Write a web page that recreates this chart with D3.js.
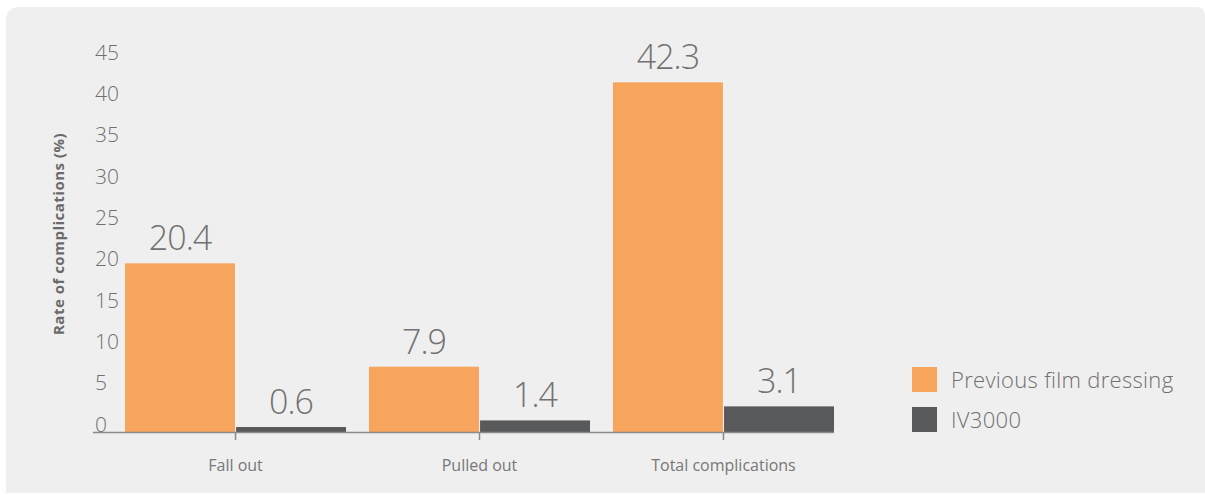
<!DOCTYPE html>
<html><head><meta charset="utf-8">
<script src="https://cdn.jsdelivr.net/npm/d3@7"></script>
<style>html,body{margin:0;padding:0;background:#fff;}svg{display:block;}</style>
</head><body>
<script>
const categories = ["Fall out", "Pulled out", "Total complications"];
const seriesNames = ["Previous film dressing", "IV3000"];
const previousFilm = [20.4, 7.9, 42.3];
const iv3000 = [0.6, 1.4, 3.1];
const valueLabels = [["20.4", "7.9", "42.3"], ["0.6", "1.4", "3.1"]];
const yTicks = [0, 5, 10, 15, 20, 25, 30, 35, 40, 45];
const colors = ["#f7a45c", "#58595b"];

const W = 1205, H = 495;
const svg = d3.select("body").append("svg").attr("width", W).attr("height", H);
const font = "'Open Sans', sans-serif";

// panel
svg.append("path")
  .attr("d", "M6,21 Q6,7 20,7 L1196,7 Q1205,7 1205,16 L1205,495 L6,495 Z")
  .attr("fill", "#efefef");
svg.append("rect").attr("x", 0).attr("y", 493).attr("width", W).attr("height", 2).attr("fill", "#fff");

const series = [previousFilm, iv3000];
const x0 = d3.scaleBand().domain(categories).range([125, 834]).paddingInner(0.094).paddingOuter(0);
const x1 = d3.scaleBand().domain([0, 1]).range([0, x0.bandwidth()]).paddingInner(0.01);
const y = d3.scaleLinear().domain([0, 45]).range([432, 60]);

// y tick labels
svg.append("g").selectAll("text").data(yTicks).join("text")
  .attr("x", 95).attr("y", d => y(d) - 8).attr("dy", "0.36em")
  .attr("font-family", font).attr("font-weight", 300).attr("font-size", 21)
  .attr("fill", "#707070").text(d => d);

// y title
svg.append("text")
  .attr("transform", `translate(64,${(130 + 338) / 2}) rotate(-90)`)
  .attr("text-anchor", "middle")
  .attr("font-family", font).attr("font-weight", 700).attr("font-size", 15)
  .attr("letter-spacing", "0.5px")
  .attr("fill", "#6a6a6a").text("Rate of complications (%)");

// bars
const groups = svg.append("g").selectAll("g").data(categories).join("g")
  .attr("transform", d => `translate(${x0(d)},0)`);
groups.selectAll("rect").data((c, i) => series.map((s, k) => ({k, v: s[i], i})))
  .join("rect")
  .attr("x", d => x1(d.k)).attr("width", x1.bandwidth())
  .attr("y", d => y(d.v)).attr("height", d => y(0) - y(d.v))
  .attr("fill", d => colors[d.k]);
groups.selectAll("text.val").data((c, i) => series.map((s, k) => ({k, v: s[i], i})))
  .join("text").attr("class", "val")
  .attr("x", d => x1(d.k) + x1.bandwidth() / 2)
  .attr("y", d => y(d.v) - 13)
  .attr("text-anchor", "middle")
  .attr("font-family", font).attr("font-weight", 300).attr("font-size", 34)
  .attr("letter-spacing", "-1px")
  .attr("fill", "#727272")
  .text(d => valueLabels[d.k][d.i]);

// x axis
svg.append("line").attr("x1", 93).attr("x2", 834).attr("y1", 432.5).attr("y2", 432.5)
  .attr("stroke", "#8a8a8a").attr("stroke-width", 1.5);
svg.append("g").selectAll("line").data(categories).join("line")
  .attr("x1", d => x0(d) + x0.bandwidth() / 2).attr("x2", d => x0(d) + x0.bandwidth() / 2)
  .attr("y1", 432).attr("y2", 440).attr("stroke", "#8a8a8a").attr("stroke-width", 1.5);
svg.append("g").selectAll("text").data(categories).join("text")
  .attr("x", d => x0(d) + x0.bandwidth() / 2).attr("y", 465).attr("dy", "0.36em")
  .attr("text-anchor", "middle")
  .attr("font-family", font).attr("font-weight", 400).attr("font-size", 16)
  .attr("fill", "#777").text(d => d);

// legend
const lg = svg.append("g").selectAll("g").data(seriesNames).join("g")
  .attr("transform", (d, i) => `translate(912,${367 + i * 40})`);
lg.append("rect").attr("width", 25).attr("height", 25).attr("fill", (d, i) => colors[i]);
lg.append("text").attr("x", 39).attr("y", 13).attr("dy", "0.36em")
  .attr("font-family", font).attr("font-weight", 300).attr("font-size", 22)
  .attr("letter-spacing", "0.3px")
  .attr("fill", "#707070").text(d => d);
</script>
</body></html>
